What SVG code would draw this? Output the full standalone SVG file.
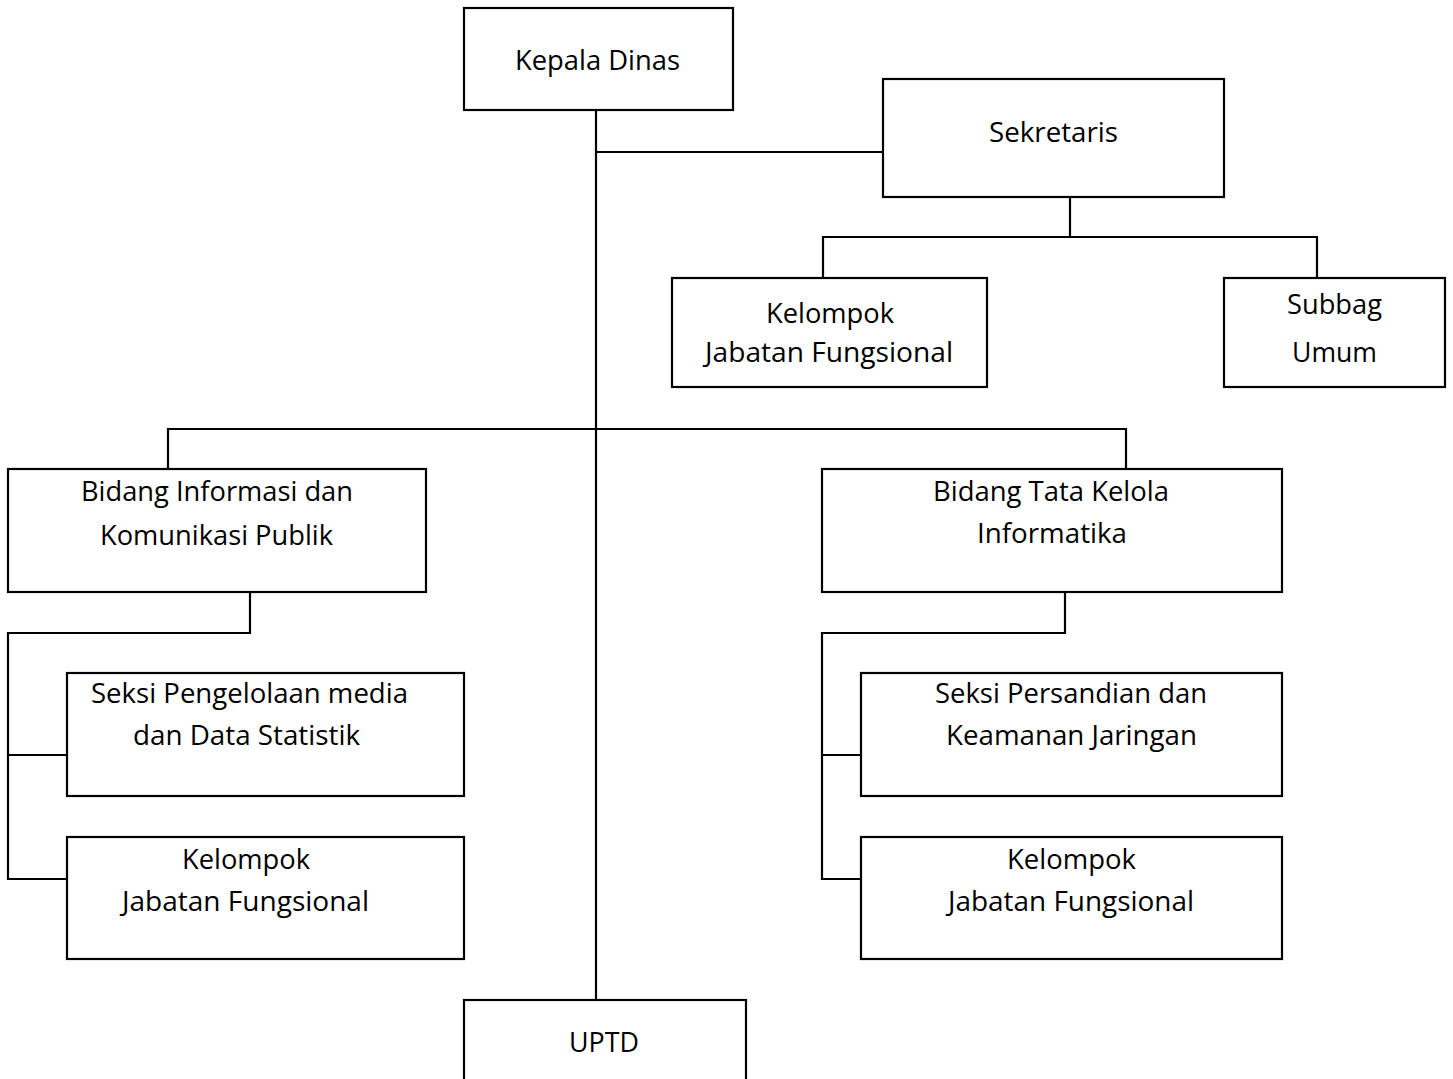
<svg xmlns="http://www.w3.org/2000/svg" width="1453" height="1079" viewBox="0 0 1453 1079">
<style>
.box{fill:#fff;stroke:#000;stroke-width:2.2}
.ln{fill:none;stroke:#000;stroke-width:2.2}
text{font-family:"Open Sans","Noto Sans","Liberation Sans",sans-serif;font-size:28px;fill:#000}
</style>
<rect width="1453" height="1079" fill="#fff"/>
<g id="connectors">
<path class="ln" d="M596 110 V1000"/>
<path class="ln" d="M596 152 H883"/>
<path class="ln" d="M1070 197 V237"/>
<path class="ln" d="M823 278 V237 H1317 V278"/>
<path class="ln" d="M168 469 V429 H1126 V469"/>
<path class="ln" d="M250 592 V633 H8 V879 H67"/>
<path class="ln" d="M8 755 H67"/>
<path class="ln" d="M1065 592 V633 H822 V879 H861"/>
<path class="ln" d="M822 755 H861"/>
</g>
<g id="kepala-dinas">
<rect class="box" x="464" y="8" width="269" height="102"/>
<text x="515" y="70" textLength="165" lengthAdjust="spacingAndGlyphs">Kepala Dinas</text>
</g>
<g id="sekretaris">
<rect class="box" x="883" y="79" width="341" height="118"/>
<text x="989" y="142" textLength="129" lengthAdjust="spacingAndGlyphs">Sekretaris</text>
</g>
<g id="kelompok-sekretariat">
<rect class="box" x="672" y="278" width="315" height="109"/>
<text x="766" y="323" textLength="128" lengthAdjust="spacingAndGlyphs">Kelompok</text>
<text x="705" y="362" textLength="248" lengthAdjust="spacingAndGlyphs">Jabatan Fungsional</text>
</g>
<g id="subbag-umum">
<rect class="box" x="1224" y="278" width="221" height="109"/>
<text x="1287" y="314" textLength="95" lengthAdjust="spacingAndGlyphs">Subbag</text>
<text x="1292" y="362" textLength="85" lengthAdjust="spacingAndGlyphs">Umum</text>
</g>
<g id="bidang-ikp">
<rect class="box" x="8" y="469" width="418" height="123"/>
<text x="81" y="501" textLength="272" lengthAdjust="spacingAndGlyphs">Bidang Informasi dan</text>
<text x="100" y="545" textLength="233" lengthAdjust="spacingAndGlyphs">Komunikasi Publik</text>
</g>
<g id="bidang-tki">
<rect class="box" x="822" y="469" width="460" height="123"/>
<text x="933" y="501" textLength="236" lengthAdjust="spacingAndGlyphs">Bidang Tata Kelola</text>
<text x="977" y="543" textLength="150" lengthAdjust="spacingAndGlyphs">Informatika</text>
</g>
<g id="seksi-media">
<rect class="box" x="67" y="673" width="397" height="123"/>
<text x="91" y="703" textLength="317" lengthAdjust="spacingAndGlyphs">Seksi Pengelolaan media</text>
<text x="133" y="745" textLength="227" lengthAdjust="spacingAndGlyphs">dan Data Statistik</text>
</g>
<g id="kelompok-ikp">
<rect class="box" x="67" y="837" width="397" height="122"/>
<text x="182" y="869" textLength="128" lengthAdjust="spacingAndGlyphs">Kelompok</text>
<text x="122" y="911" textLength="247" lengthAdjust="spacingAndGlyphs">Jabatan Fungsional</text>
</g>
<g id="seksi-persandian">
<rect class="box" x="861" y="673" width="421" height="123"/>
<text x="935" y="703" textLength="272" lengthAdjust="spacingAndGlyphs">Seksi Persandian dan</text>
<text x="946" y="745" textLength="251" lengthAdjust="spacingAndGlyphs">Keamanan Jaringan</text>
</g>
<g id="kelompok-tki">
<rect class="box" x="861" y="837" width="421" height="122"/>
<text x="1007" y="869" textLength="129" lengthAdjust="spacingAndGlyphs">Kelompok</text>
<text x="948" y="911" textLength="246" lengthAdjust="spacingAndGlyphs">Jabatan Fungsional</text>
</g>
<g id="uptd">
<rect class="box" x="464" y="1000" width="282" height="100"/>
<text x="569" y="1052" textLength="70" lengthAdjust="spacingAndGlyphs">UPTD</text>
</g>
</svg>
